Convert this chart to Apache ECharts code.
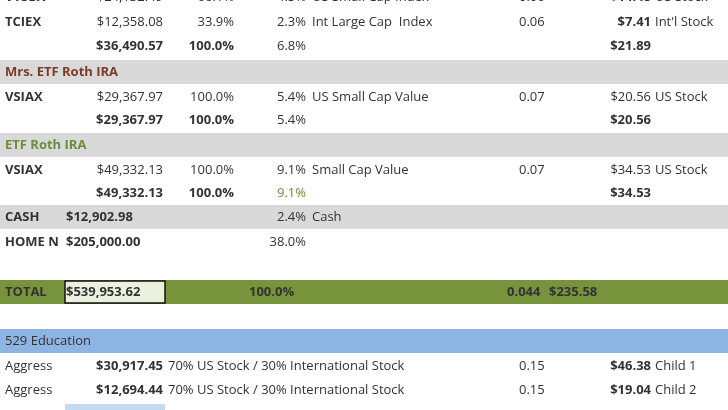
<!DOCTYPE html>
<html><head><meta charset="utf-8">
<script src="https://cdn.jsdelivr.net/npm/echarts@6/dist/echarts.min.js"></script>
<style>html,body{margin:0;padding:0;background:#fff}#c{width:728px;height:410px}</style>
</head><body><div id="c"></div>
<script>
// row data (one array per row): ticker, amount, share, alloc, fund, er, cost, category
var rowY = [-3, 22, 46, 72, 97, 120, 145, 170, 193, 217, 242, 292, 341, 366, 390];
var tickers = ['VTSBX', 'TCIEX', '', 'Mrs. ETF Roth IRA', 'VSIAX', '', 'ETF Roth IRA', 'VSIAX', '', 'CASH', 'HOME N', 'TOTAL', '529 Education', 'Aggress', 'Aggress'];
var amounts = ['$24,132.49', '$12,358.08', '$36,490.57', '', '$29,367.97', '$29,367.97', '', '$49,332.13', '$49,332.13', '$12,902.98', '$205,000.00', '$539,953.62', '', '$30,917.45', '$12,694.44'];
var shares = ['66.1%', '33.9%', '100.0%', '', '100.0%', '100.0%', '', '100.0%', '100.0%', '', '', '100.0%', '', '', ''];
var allocs = ['4.5%', '2.3%', '6.8%', '', '5.4%', '5.4%', '', '9.1%', '9.1%', '2.4%', '38.0%', '', '', '', ''];
var funds = ['US Small Cap Index', 'Int Large Cap  Index', '', '', 'US Small Cap Value', '', '', 'Small Cap Value', '', 'Cash', '', '', '', '70% US Stock / 30% International Stock', '70% US Stock / 30% International Stock'];
var ers = ['0.06', '0.06', '', '', '0.07', '', '', '0.07', '', '', '', '0.044', '', '0.15', '0.15'];
var costs = ['$14.48', '$7.41', '$21.89', '', '$20.56', '$20.56', '', '$34.53', '$34.53', '', '', '$235.58', '', '$46.38', '$19.04'];
var categories = ['US Stock', "Int'l Stock", '', '', 'US Stock', '', '', 'US Stock', '', '', '', '', '', 'Child 1', 'Child 2'];

var chart = echarts.init(document.getElementById('c'));
var F = 'Open Sans, Liberation Sans, sans-serif';
var g = [];
function band(y, color) {
    g.push({type: 'rect', shape: {x: 0, y: y - 12, width: 728, height: 24}, style: {fill: color}, z: 0});
}
band(72, '#d9d9d9'); band(145, '#d9d9d9'); band(217, '#d9d9d9');
band(292, '#77933c'); band(341, '#8db4e2');
g.push({type: 'rect', shape: {x: 65, y: 281, width: 100, height: 22}, style: {fill: '#ebf1de', stroke: '#111', lineWidth: 1.5}, z: 1});
g.push({type: 'rect', shape: {x: 65, y: 404, width: 100, height: 10}, style: {fill: '#c5d9f1'}, z: 0});

function txt(x, y, s, align, bold, color) {
    if (!s) return;
    g.push({type: 'text', x: x, y: y, z: 2, style: {text: s, align: align, verticalAlign: 'middle',
        font: (bold ? 'bold ' : '') + '13px ' + F, fill: color || '#333'}});
}
var plainAmt = [0, 1, 4, 7];
var plainCost = [4, 7];
for (var i = 0; i < rowY.length; i++) {
    var y = rowY[i];
    var tc = i === 3 ? '#7b3a2a' : (i === 6 ? '#6b8e3a' : '#333');
    txt(5, y, tickers[i], 'left', i !== 12 && i < 13, tc);
    var amtAlign = i >= 9 && i <= 11 ? 'left' : 'right';
    txt(amtAlign === 'left' ? 66 : 163, y, amounts[i], amtAlign, plainAmt.indexOf(i) < 0);
    txt(i === 11 ? 249 : 234, y, shares[i], i === 11 ? 'left' : 'right', i === 2 || i === 5 || i === 8 || i === 11);
    txt(306, y, allocs[i], 'right', false, i === 8 ? '#6b8e3a' : '#333');
    txt(i >= 13 ? 168 : 312, y, funds[i], 'left', false);
    txt(i === 11 ? 507 : 519, y, ers[i], 'left', i === 11);
    txt(i === 11 ? 549 : 651, y, costs[i], i === 11 ? 'left' : 'right', plainCost.indexOf(i) < 0);
    txt(655, y, categories[i], 'left', false);
}
chart.setOption({animation: false, graphic: g});
</script>
</body></html>
